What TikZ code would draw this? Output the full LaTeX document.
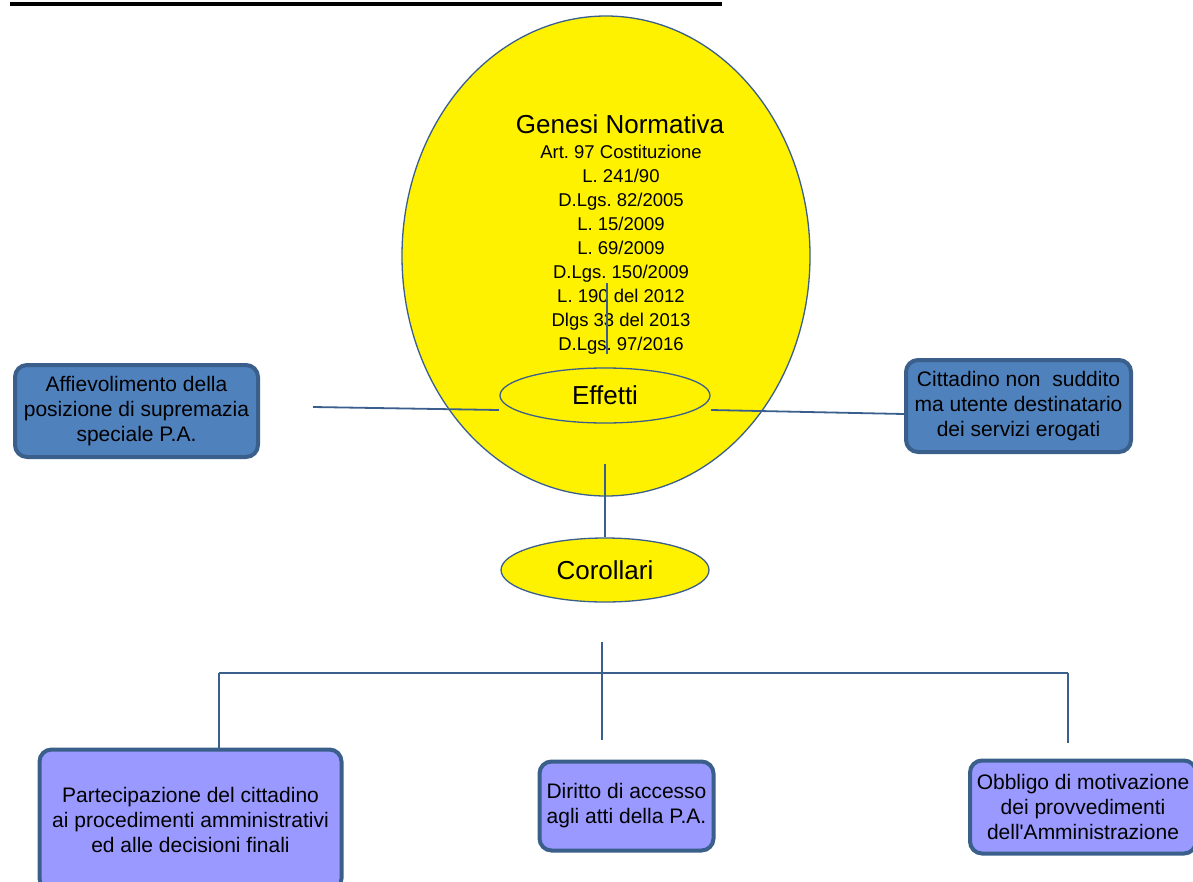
\documentclass[tikz,border=0pt]{standalone}
\usepackage{fontspec}
\setmainfont{Liberation Sans}
\usetikzlibrary{shapes.geometric, positioning}
\definecolor{edgeblue}{HTML}{3B5F8D}
\definecolor{boxblue}{HTML}{4F81BD}
\definecolor{boxframe}{HTML}{3A5F8B}
\definecolor{lilac}{HTML}{9999FF}
\frenchspacing

\begin{document}
\begin{tikzpicture}[
    x=1pt, y=-1pt,
    oval/.style={
      ellipse,
      draw=edgeblue,
      line width=1.3pt,
      fill=yellow,
      inner sep=0pt,
      font=\fontsize{26}{30}\selectfont
    },
    effect/.style={
      draw=boxframe,
      fill=boxblue,
      line width=4pt,
      rounded corners=12pt,
      align=center,
      inner sep=0pt,
      font=\fontsize{21}{25}\selectfont
    },
    corollary/.style={
      effect,
      fill=lilac
    },
    link/.style={
      draw=edgeblue,
      line width=1.8pt
    }
]
\useasboundingbox (0,0) rectangle (1193,881);
\clip (0,0) rectangle (1193,881);

% Heading rule
\coordinate (ruleL) at (10,4);
\coordinate (ruleR) at (722,4);
\draw [line width=3.5pt] (ruleL) -- (ruleR);

% Genesi Normativa
\node (genesi) [oval, minimum width=408, minimum height=480] at (606,256) {};
\node (titolo) [font=\fontsize{26}{30}\selectfont] at (620,124) {Genesi Normativa};
\node (norme) [align=center, font=\fontsize{18.5}{24}\selectfont] at (621,250)
  {Art. 97 Costituzione\\ L. 241/90\\ D.Lgs. 82/2005\\ L. 15/2009\\ L. 69/2009\\
   D.Lgs. 150/2009\\ L. 190 del 2012\\ Dlgs 33 del 2013\\ D.Lgs. 97/2016};
\coordinate (normeA) at (607,283);
\coordinate (normeB) at (607,354);
\draw [link] (normeA) -- (normeB);

% Effetti
\node (effetti) [oval, minimum width=210, minimum height=55] at (605,395.5) {Effetti};
\node (supremazia) [effect, minimum width=243, minimum height=92] at (136.5,411)
  {Affievolimento della\\ posizione di supremazia\\ speciale P.A.};
\node (cittadino) [effect, minimum width=225, minimum height=92] at (1018.5,406)
  {Cittadino non\ \ suddito\\ ma utente destinatario\\ dei servizi erogati};
\coordinate (effL) at (499,410);
\coordinate (supR) at (313,407);
\coordinate (effR) at (711,410);
\draw [link] (supR) -- (effL);
\draw [link] (effR) -- ([yshift=-8pt]cittadino.west);

% Corollari
\node (corollari) [oval, minimum width=208, minimum height=64] at (605,570) {Corollari};
\coordinate (genesiB) at (605,464);
\draw [link] (genesiB) -- (corollari.north);

% Branches
\node (partecipazione) [corollary, minimum width=302, minimum height=141] at (190.5,820)
  {Partecipazione del cittadino\\ ai procedimenti amministrativi\\ ed alle decisioni finali};
\node (accesso) [corollary, minimum width=174, minimum height=89] at (626.5,806)
  {Diritto di accesso\\ agli atti della P.A.};
\node (motivazione) [corollary, minimum width=226, minimum height=93] at (1083,807)
  {Obbligo di motivazione\\ dei provvedimenti\\ dell\textquotesingle Amministrazione};
\coordinate (ramoA) at (602,642);
\coordinate (ramoB) at (602,740);
\coordinate (ramoL) at (219,673);
\coordinate (ramoR) at (1068,673);
\coordinate (ramoRB) at (1068,743);
\draw [link] (ramoA) -- (ramoB);
\draw [link] (ramoL) -- (ramoR);
\draw [link] (ramoL) -- (ramoL |- partecipazione.north);
\draw [link] (ramoR) -- (ramoRB);

\end{tikzpicture}
\end{document}
